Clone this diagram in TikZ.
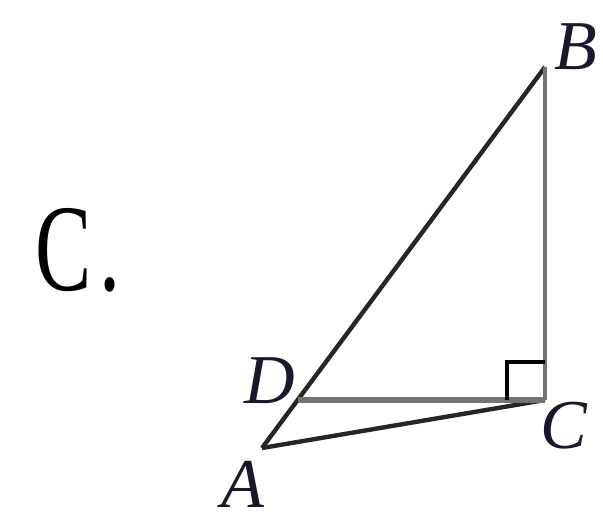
\documentclass[tikz,border=0pt]{standalone}
\usepackage{fontspec}
\setmainfont{Liberation Serif}
\begin{document}
\begin{tikzpicture}[x=0.5pt,y=-0.5pt]
\definecolor{ink}{RGB}{25,25,45}
\definecolor{edge}{RGB}{115,115,115}
\tikzset{lbl/.style={inner sep=0pt,text=ink,font=\fontsize{35}{35}\selectfont\itshape}}
\useasboundingbox (0,0) rectangle (603,515);
% vertices
\coordinate (A) at (262,448);
\coordinate (B) at (545,67);
\coordinate (C) at (545,400);
\coordinate (D) at (298,400);
% sides
\draw[line width=2.2pt,black!85] (A)--(B);
\draw[line width=2.2pt,black!85] (A)--(C);
\draw[line width=2.6pt,edge] (D)--(C);
\draw[line width=2.4pt,edge] (C)--(B);
% right angle at C
\draw[line width=2pt] (C) ++(-38,0) -- ++(0,-38) -- ++(38,0);
% labels
\node[lbl] (labB) at (576,47) {B};
\node[lbl] (labC) at (564,426) {C};
\node[lbl] (labD) at (270,381) {D};
\node[lbl] (labA) at (243,484) {A};
\node[inner sep=0pt,xscale=0.68,font=\fontsize{62}{62}\selectfont] (opt) at (78,250) {C\hspace{6pt}.};
\end{tikzpicture}
\end{document}
